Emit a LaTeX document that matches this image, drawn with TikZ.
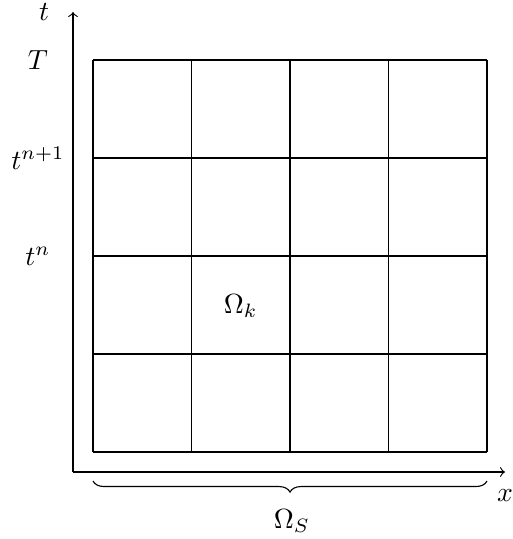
\documentclass[tikz,border=0pt]{standalone}
\usetikzlibrary{decorations.pathreplacing}
\begin{document}
\begin{tikzpicture}[x=0.01269cm,y=-0.01269cm,
  gridline/.style={draw=black,line width=0.4pt},
  axis/.style={->,line width=0.4pt},
  lbl/.style={inner sep=0pt}]
\useasboundingbox (0,0) rectangle (512,539);
% axes
\coordinate (O) at (73,472);
\coordinate (xend) at (505,472);
\coordinate (tend) at (73,12);
\draw[axis] (O) -- (xend);
\draw[axis] (O) -- (tend);
\node[anchor=north] (xl) at (505,480) {$x$};
\node (tl) at (44,12) {$t$};
% grid
\foreach \i in {0,1,2,3,4} {
  \draw[gridline] ({93+98.5*\i},60) -- ({93+98.5*\i},452);
  \draw[gridline] (93,{60+98*\i}) -- (487,{60+98*\i});
}
% labels
\node (T) at (38,60) {$T$};
\node (tn1) at (38,158) {$t^{n+1}$};
\node (tn) at (38,256) {$t^{n}$};
\node (ok) at (240.75,306) {$\Omega_k$};
% brace
\coordinate (bl) at (93,481);
\coordinate (br) at (487,481);
\draw[decorate,decoration={brace,mirror,amplitude=4pt}] (bl) -- (br);
\node (os) at (292,521) {$\Omega_S$};
\end{tikzpicture}
\end{document}
